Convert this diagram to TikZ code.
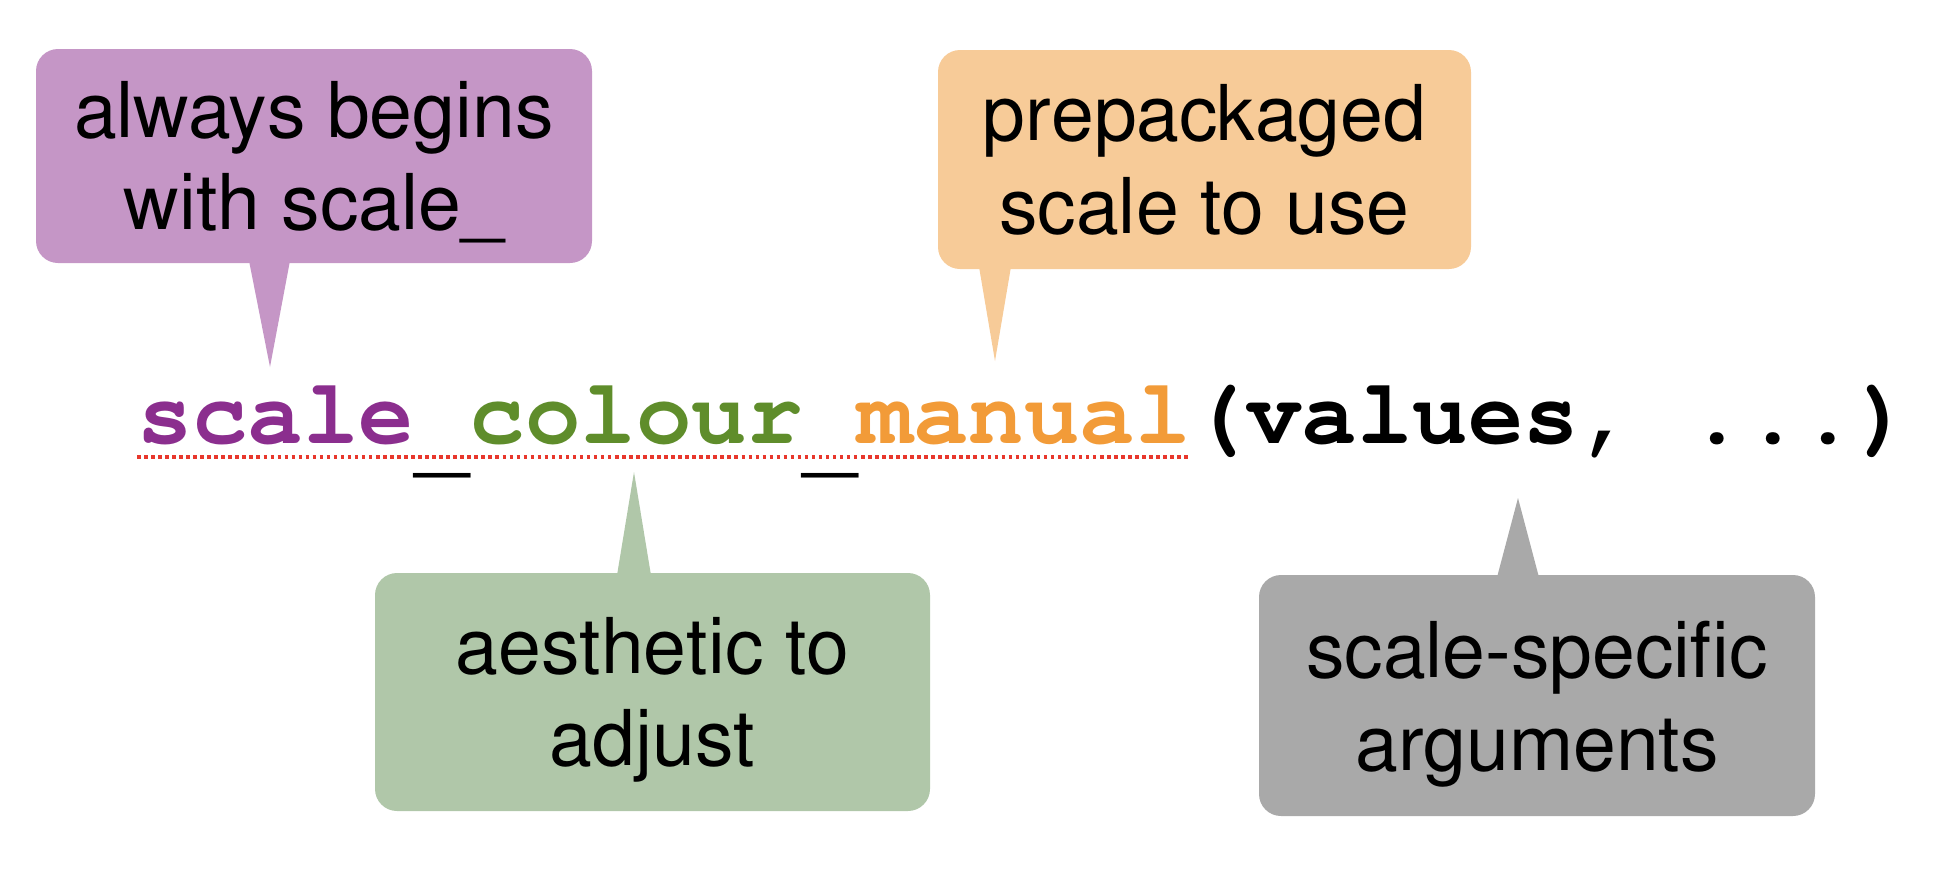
\documentclass[tikz,border=0pt]{standalone}
\usepackage[T1]{fontenc}
\usepackage{tikz}
\usetikzlibrary{calc,positioning}

\begin{document}
\begin{tikzpicture}[x=0.1mm,y=-0.1mm]
  % Colors
  \definecolor{scalepurple}{HTML}{8B2E8E}
  \definecolor{aesgreen}{HTML}{5F8D2B}
  \definecolor{manorange}{HTML}{F29B38}
  \definecolor{purplebox}{HTML}{C596C6}
  \definecolor{orangebox}{HTML}{F7CB98}
  \definecolor{greenbox}{HTML}{B0C7A9}
  \definecolor{graybox}{HTML}{A9A9A9}
  \definecolor{dotred}{HTML}{E8372C}

  % Styles
  \tikzstyle{bubble}=[rounded corners=2.2mm,align=center,inner sep=0pt,text depth=0pt,
    font=\fontfamily{phv}\fontsize{21.9}{26.4}\selectfont]
  \tikzstyle{code}=[inner sep=0pt,outer sep=0pt,
    font=\fontfamily{pcr}\fontseries{b}\fontsize{26.3}{30}\selectfont]
  \tikzstyle{underline}=[dotred,line width=1pt,dash pattern=on 1pt off 1pt]

  \useasboundingbox (0,0) rectangle (1934,870);

  % The code line
  \node[code,anchor=base west,text=scalepurple] (scl) at (137,443) {scale};
  \node[code,base right=0pt of scl] (us1) {\raisebox{-2.3mm}{\_}};
  \node[code,base right=0pt of us1,text=aesgreen] (col) {colour};
  \node[code,base right=0pt of col] (us2) {\raisebox{-2.3mm}{\_}};
  \node[code,base right=0pt of us2,text=manorange] (man) {manual};
  \node[code,base right=0pt of man] (args) {(values, ...)};

  \draw[underline] ($(scl.base west)+(0,14)$) -- ($(man.base east)+(0,14)$);

  % tips of the bubbles
  \coordinate (scltip) at (270,367);
  \coordinate (mantip) at (995,361);
  \coordinate (coltip) at (634,472);
  \coordinate (argtip) at (1518,498);

  % Bubbles
  \node[bubble,fill=purplebox,minimum width=55.6mm,minimum height=21.4mm]
    (always) at (314,156) {always begins\\with scale\_};
  \node[bubble,fill=orangebox,minimum width=53.3mm,minimum height=21.9mm]
    (prepack) at (1204.5,159.5) {prepackaged\\scale to use};
  \node[bubble,fill=greenbox,minimum width=55.5mm,minimum height=23.8mm]
    (aes) at (652.5,692) {aesthetic to\\adjust};
  \node[bubble,fill=graybox,minimum width=55.6mm,minimum height=24.1mm]
    (specific) at (1537,695.5) {scale-specific\\arguments};

  % Tails
  \fill[purplebox] ($(scltip |- always.south)+(-21,-3)$) -- (scltip)
    -- ($(scltip |- always.south)+(20,-3)$) -- cycle;
  \fill[orangebox] ($(mantip |- prepack.south)+(-16,-3)$) -- (mantip)
    -- ($(mantip |- prepack.south)+(16,-3)$) -- cycle;
  \fill[greenbox] ($(coltip |- aes.north)+(-17,3)$) -- (coltip)
    -- ($(coltip |- aes.north)+(17,3)$) -- cycle;
  \fill[graybox] ($(argtip |- specific.north)+(-21,3)$) -- (argtip)
    -- ($(argtip |- specific.north)+(21,3)$) -- cycle;

\end{tikzpicture}
\end{document}
